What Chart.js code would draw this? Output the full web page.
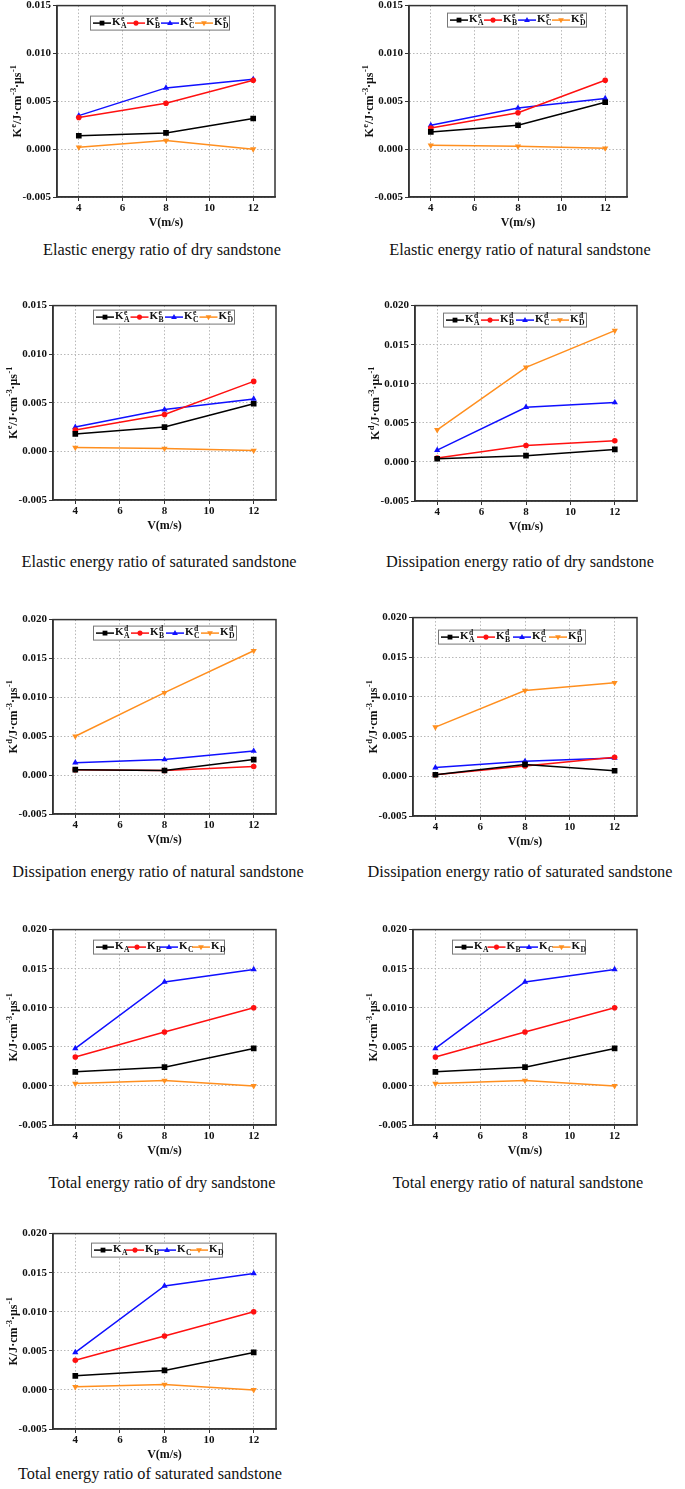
<!DOCTYPE html>
<html>
<head>
<meta charset="utf-8">
<script src="https://cdn.jsdelivr.net/npm/chart.js"></script>
<style>
  body { margin: 0; background: #fff; width: 685px; height: 1489px; position: relative; overflow: hidden;
         font-family: "Liberation Serif", "Times New Roman", serif; }
  .panel { position: absolute; }
  .cap { position: absolute; font-size: 16.3px; line-height: 20px; color: #111; white-space: nowrap; transform: translateX(-50%); }
</style>
</head>
<body>
<script>
// x values (impact velocity, m/s) and tick labels
const speeds = [4, 8, 12];
const xTicks = [4, 6, 8, 10, 12];
const yTicksE = [-0.005, 0, 0.005, 0.010, 0.015];
const yTicksD = [-0.005, 0, 0.005, 0.010, 0.015, 0.020];

// elastic energy ratio K^e
const dryElasticA = [0.0014, 0.0017, 0.0032];
const dryElasticB = [0.0033, 0.0048, 0.0072];
const dryElasticC = [0.0035, 0.0064, 0.0073];
const dryElasticD = [0.0002, 0.0009, 0.0000];

const natElasticA = [0.0018, 0.0025, 0.0049];
const natElasticB = [0.0022, 0.0038, 0.0072];
const natElasticC = [0.0025, 0.0043, 0.0053];
const natElasticD = [0.0004, 0.0003, 0.0001];

const satElasticA = [0.0018, 0.0025, 0.0049];
const satElasticB = [0.0022, 0.0038, 0.0072];
const satElasticC = [0.0025, 0.0043, 0.0054];
const satElasticD = [0.0004, 0.0003, 0.0001];

// dissipation energy ratio K^d
const dryDissA = [0.0004, 0.0008, 0.0016];
const dryDissB = [0.0005, 0.0021, 0.0027];
const dryDissC = [0.0015, 0.0070, 0.0076];
const dryDissD = [0.0041, 0.0121, 0.0168];

const natDissA = [0.0007, 0.0006, 0.0020];
const natDissB = [0.0007, 0.0006, 0.0011];
const natDissC = [0.0016, 0.0020, 0.0031];
const natDissD = [0.0050, 0.0106, 0.0160];

const satDissA = [0.0002, 0.0015, 0.0007];
const satDissB = [0.0002, 0.0013, 0.0024];
const satDissC = [0.0011, 0.0019, 0.0023];
const satDissD = [0.0062, 0.0108, 0.0118];

// total energy ratio K
const dryTotalA = [0.0018, 0.0024, 0.0048];
const dryTotalB = [0.0037, 0.0069, 0.0100];
const dryTotalC = [0.0048, 0.0133, 0.0149];
const dryTotalD = [0.0003, 0.0007, 0.0000];

const natTotalA = [0.0018, 0.0024, 0.0048];
const natTotalB = [0.0037, 0.0069, 0.0100];
const natTotalC = [0.0048, 0.0133, 0.0149];
const natTotalD = [0.0003, 0.0007, 0.0000];

const satTotalA = [0.0018, 0.0025, 0.0048];
const satTotalB = [0.0038, 0.0069, 0.0100];
const satTotalC = [0.0048, 0.0133, 0.0149];
const satTotalD = [0.0004, 0.0007, 0.0000];

const seriesLetters = ['A', 'B', 'C', 'D'];
const colors = ['#000000', '#ff1010', '#1010ff', '#ff8f1f'];
const markers = ['rect', 'circle', 'triangle', 'tridown'];

const FONT = '"Liberation Serif", "Times New Roman", serif';

// panel layout: plot rectangle [left, top, right, bottom] in page px
const panels = [
  { rect: [57, 5, 275, 197],   sup: 'e', yTicks: yTicksE, sets: [dryElasticA, dryElasticB, dryElasticC, dryElasticD], leg: [33, 10, 34],
    cap: 'Elastic energy ratio of dry sandstone', capX: 162, capY: 250 },
  { rect: [409, 5, 627, 197],  sup: 'e', yTicks: yTicksE, sets: [natElasticA, natElasticB, natElasticC, natElasticD], leg: [38, 7, 34],
    cap: 'Elastic energy ratio of natural sandstone', capX: 520, capY: 250 },
  { rect: [53, 305, 276, 500], sup: 'e', yTicks: yTicksE, sets: [satElasticA, satElasticB, satElasticC, satElasticD], leg: [40, 4, 34.5],
    cap: 'Elastic energy ratio of saturated sandstone', capX: 159, capY: 562 },
  { rect: [415, 305, 637, 501], sup: 'd', yTicks: yTicksD, sets: [dryDissA, dryDissB, dryDissC, dryDissD], leg: [28, 7, 35],
    cap: 'Dissipation energy ratio of dry sandstone', capX: 520, capY: 562 },
  { rect: [53, 619, 276, 814], sup: 'd', yTicks: yTicksD, sets: [natDissA, natDissB, natDissC, natDissD], leg: [40, 6, 35],
    cap: 'Dissipation energy ratio of natural sandstone', capX: 158, capY: 872 },
  { rect: [413, 617, 637, 816], sup: 'd', yTicks: yTicksD, sets: [satDissA, satDissB, satDissC, satDissD], leg: [25, 12, 36],
    cap: 'Dissipation energy ratio of saturated sandstone', capX: 520, capY: 872 },
  { rect: [53, 929, 276, 1125], sup: '', yTicks: yTicksD, sets: [dryTotalA, dryTotalB, dryTotalC, dryTotalD], leg: [40, 10, 32],
    cap: 'Total energy ratio of dry sandstone', capX: 162, capY: 1183 },
  { rect: [413, 929, 637, 1125], sup: '', yTicks: yTicksD, sets: [natTotalA, natTotalB, natTotalC, natTotalD], leg: [39, 10, 32.5],
    cap: 'Total energy ratio of natural sandstone', capX: 518, capY: 1183 },
  { rect: [53, 1233, 276, 1429], sup: '', yTicks: yTicksD, sets: [satTotalA, satTotalB, satTotalC, satTotalD], leg: [38, 9, 32],
    cap: 'Total energy ratio of saturated sandstone', capX: 150, capY: 1474 }
];

function drawMarker(ctx, kind, x, y, r, color) {
  ctx.fillStyle = color;
  ctx.beginPath();
  if (kind === 'rect') {
    ctx.rect(x - r * 0.75, y - r * 0.75, r * 1.5, r * 1.5);
  } else if (kind === 'circle') {
    ctx.arc(x, y, r * 0.8, 0, Math.PI * 2);
  } else if (kind === 'triangle') {
    ctx.moveTo(x, y - r); ctx.lineTo(x + r * 0.9, y + r * 0.6); ctx.lineTo(x - r * 0.9, y + r * 0.6);
  } else {
    ctx.moveTo(x, y + r); ctx.lineTo(x + r * 0.9, y - r * 0.6); ctx.lineTo(x - r * 0.9, y - r * 0.6);
  }
  ctx.closePath();
  ctx.fill();
}

// rich text: parts = [[text, kind]] where kind is '', 'sup' or 'supsub' (value [sup, sub])
function richWidth(ctx, parts, size) {
  let w = 0;
  parts.forEach(([t, k]) => {
    if (k === '') { ctx.font = 'bold ' + size + 'px ' + FONT; w += ctx.measureText(t).width; }
    else {
      ctx.font = 'bold ' + (size * 0.7) + 'px ' + FONT;
      const txt = Array.isArray(t) ? t : [t];
      w += Math.max(...txt.map(s => ctx.measureText(s).width)) + 0.5;
    }
  });
  return w;
}
function drawRich(ctx, parts, x, y, size) {
  parts.forEach(([t, k]) => {
    if (k === '') {
      ctx.font = 'bold ' + size + 'px ' + FONT;
      ctx.fillText(t, x, y);
      x += ctx.measureText(t).width;
    } else if (k === 'sup') {
      ctx.font = 'bold ' + (size * 0.7) + 'px ' + FONT;
      ctx.fillText(t, x + 0.5, y - size * 0.38);
      x += ctx.measureText(t).width + 0.5;
    } else {
      ctx.font = 'bold ' + (size * 0.7) + 'px ' + FONT;
      if (t[0]) ctx.fillText(t[0], x + 0.5, y - size * 0.36);
      ctx.fillText(t[1], x + 0.5, y + size * 0.32);
      x += Math.max(ctx.measureText(t[0]).width, ctx.measureText(t[1]).width) + 0.5;
    }
  });
}

function framePlugin(p) {
  return {
    id: 'frame',
    afterDraw(chart) {
      const ctx = chart.ctx, a = chart.chartArea;
      ctx.save();
      ctx.strokeStyle = '#333';
      ctx.lineWidth = 1.5;
      ctx.strokeRect(a.left, a.top, a.right - a.left, a.bottom - a.top);

      // y axis title
      const titleParts = p.sup ? [['K', ''], [p.sup, 'sup'], ['/J\u00b7cm', ''], ['-3', 'sup'], ['\u00b7\u03bcs', ''], ['-1', 'sup']]
                               : [['K/J\u00b7cm', ''], ['-3', 'sup'], ['\u00b7\u03bcs', ''], ['-1', 'sup']];
      const ts = 12;
      const tw = richWidth(ctx, titleParts, ts);
      ctx.translate(a.left - 39, (a.top + a.bottom) / 2);
      ctx.rotate(-Math.PI / 2);
      ctx.fillStyle = '#111';
      ctx.textBaseline = 'middle';
      drawRich(ctx, titleParts, -tw / 2, 0, ts);
      ctx.restore();

      // legend box
      ctx.save();
      const [lx, ly, step] = p.leg;
      const bx = a.left + lx, by = a.top + ly, bw = step * 4 + 3, bh = 14;
      ctx.fillStyle = '#fff';
      ctx.fillRect(bx, by, bw, bh);
      ctx.strokeStyle = '#777';
      ctx.lineWidth = 1;
      ctx.strokeRect(bx + 0.5, by + 0.5, bw, bh);
      const my = by + bh / 2 + 0.5;
      ctx.textBaseline = 'middle';
      seriesLetters.forEach((s, i) => {
        const x0 = bx + 3 + i * step;
        ctx.strokeStyle = colors[i];
        ctx.lineWidth = 1.5;
        ctx.beginPath(); ctx.moveTo(x0, my); ctx.lineTo(x0 + 18, my); ctx.stroke();
        drawMarker(ctx, markers[i], x0 + 9, my, 3.2, colors[i]);
        ctx.fillStyle = '#111';
        drawRich(ctx, [['K', ''], [[p.sup, s], 'supsub']], x0 + 19, my - 0.5, 11);
      });
      ctx.restore();
    }
  };
}

function makeChart(p) {
  const padL = 55, padT = 8, padR = 10, axisH = 33;
  const w = p.rect[2] - p.rect[0] + padL + padR;
  const h = p.rect[3] - p.rect[1] + padT + axisH;
  const wrap = document.createElement('div');
  wrap.className = 'panel';
  wrap.style.left = (p.rect[0] - padL) + 'px';
  wrap.style.top = (p.rect[1] - padT) + 'px';
  wrap.style.width = w + 'px';
  wrap.style.height = h + 'px';
  const cvs = document.createElement('canvas');
  cvs.style.width = w + 'px';
  cvs.style.height = h + 'px';
  wrap.appendChild(cvs);
  document.body.appendChild(wrap);

  const cap = document.createElement('div');
  cap.className = 'cap';
  cap.textContent = p.cap;
  cap.style.left = p.capX + 'px';
  cap.style.top = (p.capY - 10) + 'px';
  document.body.appendChild(cap);

  const tickFont = { family: FONT, size: 11, weight: 'bold' };
  new Chart(cvs, {
    type: 'line',
    data: {
      datasets: p.sets.map((vals, i) => ({
        label: 'K' + p.sup + seriesLetters[i],
        data: speeds.map((x, j) => ({ x: x, y: vals[j] })),
        borderColor: colors[i],
        backgroundColor: colors[i],
        borderWidth: 1.5,
        pointStyle: markers[i] === 'tridown' ? 'triangle' : markers[i],
        rotation: markers[i] === 'tridown' ? 180 : 0,
        pointRadius: markers[i] === 'rect' ? 4 : (markers[i] === 'circle' ? 2.8 : 3.6),
        pointBorderWidth: 0,
        tension: 0,
        fill: false
      }))
    },
    options: {
      responsive: false,
      animation: false,
      layout: { padding: { top: padT, right: padR, left: 0, bottom: 0 } },
      plugins: { legend: { display: false }, tooltip: { enabled: false } },
      scales: {
        x: {
          type: 'linear', min: 3, max: 13,
          afterBuildTicks: s => { s.ticks = xTicks.map(v => ({ value: v })); },
          afterFit: s => { s.height = axisH; },
          ticks: { font: tickFont, color: '#111', padding: 1, maxRotation: 0, callback: v => String(v) },
          grid: { color: '#b8b8b8', lineWidth: 1, tickLength: 4, tickColor: '#333', tickBorderDash: [] },
          border: { display: true, color: '#333', width: 1.5, dash: [1.5, 2] },
          title: { display: true, text: 'V(m/s)', color: '#111', padding: 0, font: { family: FONT, size: 12, weight: 'bold' } }
        },
        y: {
          min: p.yTicks[0], max: p.yTicks[p.yTicks.length - 1],
          afterBuildTicks: s => { s.ticks = p.yTicks.map(v => ({ value: v })); },
          afterFit: s => { s.width = padL; },
          ticks: { font: tickFont, color: '#111', padding: 2, callback: v => v.toFixed(3) },
          grid: { color: '#b8b8b8', lineWidth: 1, tickLength: 4, tickColor: '#333', tickBorderDash: [] },
          border: { display: true, color: '#333', width: 1.5, dash: [1.5, 2] }
        }
      }
    },
    plugins: [framePlugin(p)]
  });
}

panels.forEach(makeChart);
</script>
</body>
</html>
